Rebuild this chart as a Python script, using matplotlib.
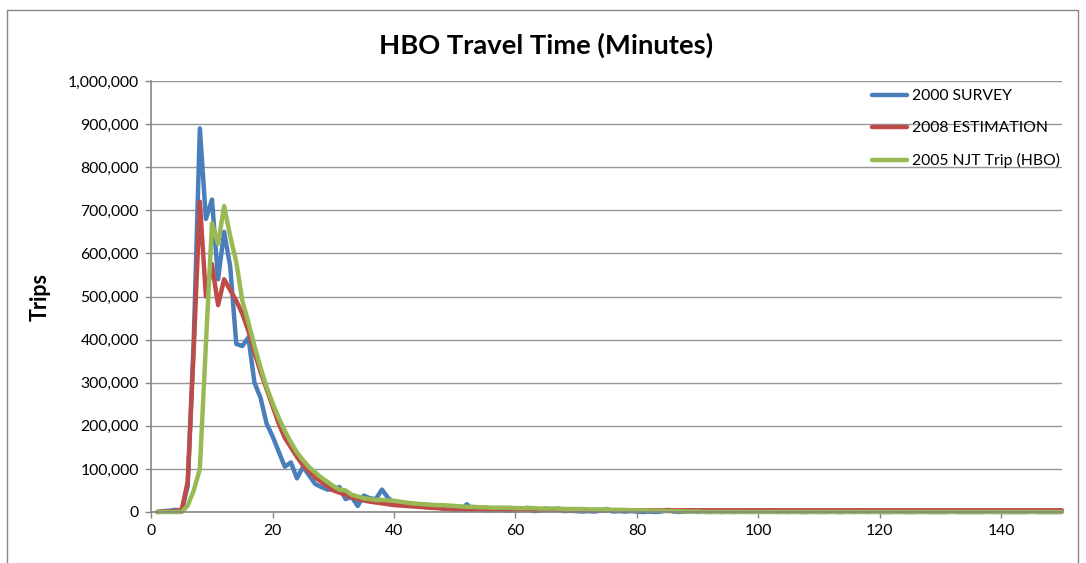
#!/usr/bin/env python3
"""Plot HBO travel time distributions (trips by minute) for three data sources."""

import matplotlib

matplotlib.use("Agg")
import matplotlib.pyplot as plt
from matplotlib.lines import Line2D
from matplotlib.ticker import FuncFormatter, MultipleLocator

MINUTES = list(range(1, 151))

SURVEY_2000 = [
    0, 2000, 3000, 5000, 2000, 60000, 400000, 890000, 680000, 725000,
    540000, 650000, 570000, 390000, 385000, 405000, 300000, 265000, 205000, 175000,
    140000, 105000, 115000, 78000, 105000, 85000, 65000, 58000, 52000, 52000,
    58000, 30000, 35000, 14000, 38000, 32000, 30000, 52000, 33000, 22000,
    20000, 18000, 20000, 15000, 12000, 10000, 12000, 8000, 9000, 5000,
    6000, 18000, 5000, 6000, 3000, 5000, 4000, 7000, 3000, 5000,
    4000, 10000, 2000, 3000, 8000, 4000, 8000, 2000, 3000, 2000,
    1000, 2000, 1000, 3000, 7000, 1000, 2000, 1000, 2000, 1000,
    0, 1000, 0, 1000, 5000, 1000, 0, 1000, 2000, 0,
    1000, 0, 1000, 0, 1000, 0, 1000, 2000, 0, 2000,
    1000, 3000, 0, 1000, 0, 1000, 0, 0, 1000, 0,
    0, 1000, 0, 0, 1000, 0, 3000, 0, 1000, 0,
    0, 0, 1000, 0, 0, 0, 1000, 0, 0, 0,
    0, 1000, 0, 0, 0, 0, 0, 1000, 0, 0,
    0, 0, 0, 0, 1000, 0, 0, 0, 0, 0,
]

ESTIMATION_2008 = [
    0, 1000, 1000, 3000, 5000, 70000, 380000, 720000, 500000, 575000,
    480000, 540000, 515000, 490000, 460000, 420000, 370000, 325000, 285000, 245000,
    205000, 172000, 150000, 128000, 108000, 94000, 80000, 70000, 60000, 50000,
    45000, 40000, 34000, 30000, 27000, 24000, 22000, 20000, 18000, 16000,
    15000, 14000, 13000, 12000, 11000, 10000, 9000, 8000, 7000, 6000,
    6000, 5000, 5000, 5000, 5000, 4000, 4000, 4000, 4000, 4000,
    4000, 4000, 4000, 4000, 4000, 4000, 4000, 4000, 4000, 4000,
    4000, 4000, 4000, 4000, 4000, 4000, 4000, 4000, 4000, 4000,
    4000, 4000, 4000, 4000, 4000, 4000, 4000, 4000, 4000, 4000,
    4000, 4000, 4000, 4000, 4000, 4000, 4000, 4000, 4000, 4000,
    4000, 4000, 4000, 4000, 4000, 4000, 4000, 4000, 4000, 4000,
    4000, 4000, 4000, 4000, 4000, 4000, 4000, 4000, 4000, 4000,
    4000, 4000, 4000, 4000, 4000, 4000, 4000, 4000, 4000, 4000,
    4000, 4000, 4000, 4000, 4000, 4000, 4000, 4000, 4000, 4000,
    4000, 4000, 4000, 4000, 4000, 4000, 4000, 4000, 4000, 4000,
]

NJT_2005 = [
    0, 0, 0, 0, 0, 15000, 50000, 100000, 390000, 670000,
    622000, 710000, 640000, 580000, 490000, 440000, 385000, 335000, 290000, 252000,
    218000, 188000, 162000, 138000, 120000, 104000, 92000, 80000, 70000, 60000,
    52000, 50000, 40000, 36000, 32000, 30000, 28000, 28000, 27000, 26000,
    24000, 22000, 20000, 19000, 18000, 17000, 16000, 16000, 15000, 14000,
    13000, 12000, 12000, 11000, 11000, 10000, 10000, 10000, 10000, 9000,
    9000, 9000, 9000, 8000, 8000, 8000, 8000, 7000, 7000, 7000,
    7000, 6000, 6000, 6000, 6000, 5000, 5000, 5000, 4000, 4000,
    4000, 3000, 3000, 3000, 2000, 2000, 2000, 1000, 1000, 1000,
    0, 0, 0, 0, 0, 0, 0, 0, 0, 0,
    0, 0, 0, 0, 0, 0, 0, 0, 0, 0,
    0, 0, 0, 0, 0, 0, 0, 0, 0, 0,
    0, 0, 0, 0, 0, 0, 0, 0, 0, 0,
    0, 0, 0, 0, 0, 0, 0, 0, 0, 0,
    0, 0, 0, 0, 0, 0, 0, 0, 0, 0,
]

SERIES = [
    ("2000 SURVEY", SURVEY_2000, "#4A7EBB"),
    ("2008 ESTIMATION", ESTIMATION_2008, "#BE4B48"),
    ("2005 NJT Trip (HBO)", NJT_2005, "#98B954"),
]

AXIS_GRAY = "#868686"
GRID_GRAY = "#969696"
LINE_W = 3.2

plt.rcParams["font.family"] = ["Lato", "DejaVu Sans"]

fig = plt.figure(figsize=(10.86, 5.63), dpi=100)
ax = fig.add_axes([0.1393, 0.0906, 0.8384, 0.7655])

for label, values, color in SERIES:
    ax.plot(MINUTES, values, color=color, linewidth=LINE_W, label=label,
            solid_joinstyle="round", solid_capstyle="round", clip_on=False)

ax.set_xlim(0, 150)
ax.set_ylim(0, 1000000)
ax.xaxis.set_major_locator(MultipleLocator(20))
ax.yaxis.set_major_locator(MultipleLocator(100000))
ax.yaxis.set_major_formatter(FuncFormatter(lambda v, _: f"{int(v):,}"))

ax.grid(axis="y", color=GRID_GRAY, linewidth=1.0)
ax.set_axisbelow(True)
for side in ["top", "right"]:
    ax.spines[side].set_visible(False)
for side in ["left", "bottom"]:
    ax.spines[side].set_color(AXIS_GRAY)
    ax.spines[side].set_linewidth(1.2)
ax.tick_params(axis="both", colors=AXIS_GRAY, labelcolor="black", labelsize=11.3,
               length=4, width=1.0)
ax.tick_params(axis="x", pad=5)
ax.tick_params(axis="y", pad=5)

ax.set_ylabel("Trips", fontsize=15.5, fontweight="bold", labelpad=12)
fig.text(0.503, 0.92, "HBO Travel Time (Minutes)", ha="center", va="center",
         fontsize=19.7, fontweight="bold")

handles = [Line2D([], [], color=c, linewidth=LINE_W, solid_capstyle="round") for _, _, c in SERIES]
ax.legend(handles, [s[0] for s in SERIES], loc="upper left", frameon=False,
          bbox_to_anchor=(866 / 1086, 1 - 83 / 563), bbox_transform=fig.transFigure,
          fontsize=11.3, handlelength=2.2, handletextpad=0.3, labelspacing=1.15,
          borderaxespad=0)

# chart area border
fig.add_artist(Line2D([7 / 1086, 7 / 1086, 1078 / 1086, 1078 / 1086],
                      [0, 1 - 10 / 563, 1 - 10 / 563, 0],
                      transform=fig.transFigure, color=AXIS_GRAY, linewidth=1.0))

fig.savefig("out.png", dpi=100)
